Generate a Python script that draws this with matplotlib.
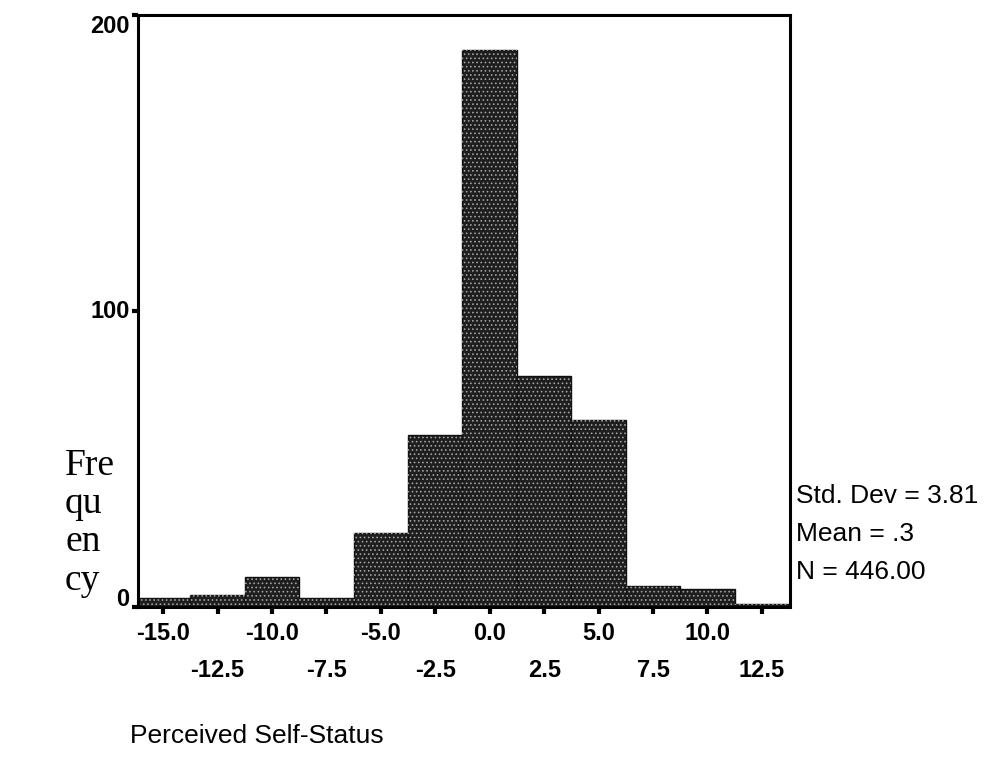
import matplotlib
matplotlib.use("Agg")
import matplotlib.pyplot as plt
import matplotlib.transforms as mtransforms

# histogram data (bins centred on multiples of 2.5)
bin_centres = [-15.0, -12.5, -10.0, -7.5, -5.0, -2.5, 0.0, 2.5, 5.0, 7.5, 10.0, 12.5]
counts = [3, 4, 10, 3, 25, 58, 188, 78, 63, 7, 6, 1]
tick_labels = ["-15.0", "-12.5", "-10.0", "-7.5", "-5.0", "-2.5", "0.0", "2.5", "5.0", "7.5", "10.0", "12.5"]
stats_lines = ["Std. Dev = 3.81", "Mean = .3", "N = 446.00"]
bin_width = 2.5

plt.rcParams["hatch.linewidth"] = 0.7

fig = plt.figure(figsize=(9.86, 7.76), dpi=100)
ax = fig.add_axes([0.140, 0.218, 0.661, 0.763])

# dark fill, then light stipple on top
ax.bar(bin_centres, counts, width=bin_width, color="#1e1e1e", edgecolor="#111111", linewidth=1.0)
ax.bar(bin_centres, counts, width=bin_width, fill=False, hatch="....", edgecolor="#a0a0a0", linewidth=0)

ax.set_xlim(-16.15, 13.78)
ax.set_ylim(0, 200)

for s in ax.spines.values():
    s.set_linewidth(2.2)
    s.set_color("black")

# alternating rows for x tick labels
xl = [lab if i % 2 == 0 else "\n" + lab for i, lab in enumerate(tick_labels)]
ax.set_xticks(bin_centres)
ax.set_xticklabels(xl, fontsize=17, fontweight="bold", family="Liberation Sans")
for lab in ax.get_xticklabels():
    lab.set_linespacing(1.75)
ax.tick_params(axis="x", direction="out", length=5, width=3, pad=6)

ax.set_yticks([0, 100, 200])
ax.set_yticklabels(["0", "100", "200"], fontsize=17, fontweight="bold", family="Liberation Sans")
ax.tick_params(axis="y", direction="out", length=4, width=3, pad=2)
# nudge "0" up and "200" down like the original
for lab, dy in zip(ax.get_yticklabels(), [10, 2, -9]):
    lab.set_transform(lab.get_transform() + mtransforms.ScaledTranslation(0, dy / 100, fig.dpi_scale_trans))

# y label, one syllable per line, serif
fig.text(0.066, 0.422, "Fre\nqu\nen\ncy", fontsize=27, family="Liberation Serif",
         va="top", ha="left", linespacing=1.14)

# stats box on the right
for i, line in enumerate(stats_lines):
    fig.text(0.807, 0.361 - i * 0.049, line, fontsize=19, family="Liberation Sans",
             va="center", ha="left")

fig.text(0.132, 0.052, "Perceived Self-Status", fontsize=19, family="Liberation Sans",
         va="center", ha="left")

fig.savefig("out.png", dpi=100)
